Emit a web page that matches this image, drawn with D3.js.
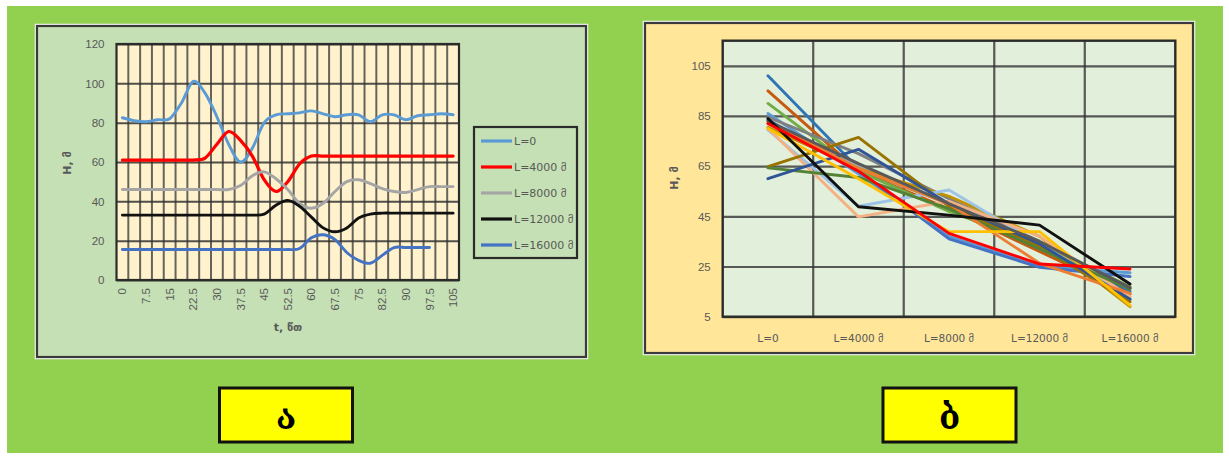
<!DOCTYPE html>
<html>
<head>
<meta charset="utf-8">
<script src="https://cdn.jsdelivr.net/npm/d3@7"></script>
<style>
  html, body { margin: 0; padding: 0; background: #ffffff; }
  svg { display: block; }
</style>
</head>
<body>
<svg id="chart" width="1229" height="459"></svg>
<script>
// ---------- Panel ა : water level H over time t at five stations ----------
const timeSteps = [0, 3.75, 7.5, 11.25, 15, 18.75, 22.5, 26.25, 30, 33.75, 37.5, 41.25, 45, 48.75,
  52.5, 56.25, 60, 63.75, 67.5, 71.25, 75, 78.75, 82.5, 86.25, 90, 93.75, 97.5, 101.25, 105];
const timeTickLabels = ["0", "7.5", "15", "22.5", "30", "37.5", "45", "52.5", "60", "67.5",
  "75", "82.5", "90", "97.5", "105"];
const levelTicks = [0, 20, 40, 60, 80, 100, 120];

const stationNames = ["L=0", "L=4000 მ", "L=8000 მ", "L=12000 მ", "L=16000 მ"];
const stationColors = ["#5B9BD5", "#FF0000", "#A5A5A5", "#111111", "#4472C4"];

const levelL0 = [82.5, 81, 80.5, 81.5, 82, 90, 101, 95, 83, 69, 60, 67, 80, 84, 84.5,
  85, 86, 84.5, 83, 84, 84, 80.5, 84, 84, 81.5, 83.5, 84, 84.5, 84];
const levelL4000 = [61, 61, 61, 61, 61, 61, 61, 62, 69, 75.5, 71, 63, 51, 45, 50,
  59, 63, 63, 63, 63, 63, 63, 63, 63, 63, 63, 63, 63, 63];
const levelL8000 = [46, 46, 46, 46, 46, 46, 46, 46, 46, 46, 48, 53, 55, 51.5, 46,
  39, 36.5, 39, 45, 50, 51, 49, 46.5, 45, 44.5, 46, 47.5, 47.5, 47.5];
const levelL12000 = [33, 33, 33, 33, 33, 33, 33, 33, 33, 33, 33, 33, 33.5, 38, 40.5,
  37.5, 32, 26.5, 24.5, 26.5, 31.5, 33.5, 34, 34, 34, 34, 34, 34, 34];
const levelL16000 = [15.5, 15.5, 15.5, 15.5, 15.5, 15.5, 15.5, 15.5, 15.5, 15.5, 15.5, 15.5, 15.5, 15.5, 15.5,
  16, 21.5, 23, 20.5, 14, 10, 8.5, 12.5, 16.5, 16.5, 16.5, 16.5, null, null];
const stationLevels = [levelL0, levelL4000, levelL8000, levelL12000, levelL16000];

// ---------- Panel ბ : level profiles along the channel ----------
const profileCategories = ["L=0", "L=4000 მ", "L=8000 მ", "L=12000 მ", "L=16000 მ"];
const profileTicks = [5, 25, 45, 65, 85, 105];

const profileSteelBlue = [101, 64, 50, 33, 15];
const profileBrown = [95, 63, 48, 31, 14];
const profileGreen = [90, 63, 47, 34, 17];
const profileLightBlue = [86, 62, 37, 25, 22.5];
const profileMidGray = [84.5, 70, 52, 35, 16.5];
const profileBlue = [83.5, 63, 36, 24.7, 21];
const profileGray = [82, 65, 50, 34, 12];
const profileGold = [80.5, 64, 53, 37, 9];
const profilePaleBlue = [79.5, 49, 55.5, 34, 13];
const profileBlack = [84, 48.8, 45.5, 41.5, 18];
const profileSalmon = [80, 44.8, 51, 37, 13];
const profileOlive = [64.8, 76.5, 49, 33, 11];
const profileDarkGreen = [64.3, 60.5, 48, 32, 16];
const profileNavy = [60, 71.7, 50, 34, 12];
const profileRed = [82, 63, 38.2, 26, 24];
const profileYellow = [80, 60, 38.9, 38.9, 9.5];
const profileOrange = [83, 64, 50, 26.3, 14.3];
const profileDarkGray = [83, 66, 50, 35, 16.5];

const profiles = [
  { color: "#2E75B6", values: profileSteelBlue },
  { color: "#C55A11", values: profileBrown },
  { color: "#70AD47", values: profileGreen },
  { color: "#5B9BD5", values: profileLightBlue },
  { color: "#7F7F7F", values: profileMidGray },
  { color: "#4472C4", values: profileBlue },
  { color: "#A5A5A5", values: profileGray },
  { color: "#BF9000", values: profileGold },
  { color: "#9DC3E6", values: profilePaleBlue },
  { color: "#F4B183", values: profileSalmon },
  { color: "#997300", values: profileOlive },
  { color: "#548235", values: profileDarkGreen },
  { color: "#2F5597", values: profileNavy },
  { color: "#ED7D31", values: profileOrange },
  { color: "#FFC000", values: profileYellow },
  { color: "#595959", values: profileDarkGray },
  { color: "#111111", values: profileBlack },
  { color: "#FF0000", values: profileRed }
];

// ---------- drawing ----------
const svg = d3.select("#chart");
const labelFont = "'Liberation Sans', 'DejaVu Sans', sans-serif";
const textGray = "#595959";

// green backdrop
svg.append("rect").attr("x", 7).attr("y", 6).attr("width", 1216).attr("height", 447)
  .attr("fill", "#92D050");

function panel(x, y, w, h, fill) {
  svg.append("rect").attr("x", x - 1.5).attr("y", y - 1.5).attr("width", w + 3).attr("height", h + 3)
    .attr("fill", "none").attr("stroke", "#f4f4f4").attr("stroke-width", 1.5);
  svg.append("rect").attr("x", x).attr("y", y).attr("width", w).attr("height", h)
    .attr("fill", fill).attr("stroke", "#3a3a3a").attr("stroke-width", 2.2);
}

// ===== left chart =====
panel(37, 26, 549, 331, "#C5E0B4");

const plotL = { left: 116.5, right: 459, top: 44, bottom: 280 };
const xL = d3.scaleBand().domain(timeSteps).range([plotL.left, plotL.right]).paddingInner(0).paddingOuter(0);
const yL = d3.scaleLinear().domain([0, 120]).range([plotL.bottom, plotL.top]);

const gL = svg.append("g");
gL.append("rect").attr("x", plotL.left).attr("y", plotL.top)
  .attr("width", plotL.right - plotL.left).attr("height", plotL.bottom - plotL.top)
  .attr("fill", "#FFF2CC");

// vertical grid at category boundaries
gL.append("g").selectAll("line").data(timeSteps.slice(1)).join("line")
  .attr("x1", d => xL(d)).attr("x2", d => xL(d))
  .attr("y1", plotL.top).attr("y2", plotL.bottom)
  .attr("stroke", "#333333").attr("stroke-opacity", 0.75).attr("stroke-width", 2);

// horizontal grid + y labels
const yAxisL = d3.axisLeft(yL).tickValues(levelTicks).tickSize(-(plotL.right - plotL.left)).tickPadding(12);
const yAxG = gL.append("g").attr("transform", `translate(${plotL.left},0)`).call(yAxisL);
yAxG.select(".domain").remove();
yAxG.selectAll(".tick line").attr("stroke", "#333333").attr("stroke-opacity", 0.85).attr("stroke-width", 2);
yAxG.selectAll(".tick text").attr("fill", textGray).attr("font-family", labelFont).attr("font-size", 11.5);

// x labels (every second category)
const labelByStep = new Map(timeSteps.filter((t, i) => i % 2 === 0).map((t, k) => [t, timeTickLabels[k]]));
const xAxisL = d3.axisBottom(xL).tickValues(timeSteps.filter((t, i) => i % 2 === 0))
  .tickFormat(t => labelByStep.get(t)).tickSize(0).tickPadding(0);
const xAxG = gL.append("g").attr("transform", `translate(0,${plotL.bottom})`).call(xAxisL);
xAxG.select(".domain").remove();
xAxG.selectAll(".tick text")
  .attr("fill", textGray).attr("font-family", labelFont).attr("font-size", 11.5)
  .attr("text-anchor", "end").attr("transform", "rotate(-90)")
  .attr("x", -8).attr("y", 0).attr("dy", "0.35em");

// series
const lineL = d3.line()
  .defined(d => d.v !== null)
  .x(d => xL(d.t) + xL.bandwidth() / 2)
  .y(d => yL(d.v))
  .curve(d3.curveCardinal.tension(0));

stationLevels.forEach((vals, k) => {
  gL.append("path")
    .datum(timeSteps.map((t, i) => ({ t, v: vals[i] })))
    .attr("d", lineL).attr("fill", "none")
    .attr("stroke", stationColors[k]).attr("stroke-width", k === 1 ? 3.2 : 2.9)
    .attr("stroke-linejoin", "round").attr("stroke-linecap", "round");
});

gL.append("rect").attr("x", plotL.left).attr("y", plotL.top)
  .attr("width", plotL.right - plotL.left).attr("height", plotL.bottom - plotL.top)
  .attr("fill", "none").attr("stroke", "#2b2b2b").attr("stroke-width", 2.2);

// axis titles
svg.append("text").attr("transform", "translate(67,163) rotate(-90)")
  .attr("text-anchor", "middle").attr("dy", "0.35em")
  .attr("font-family", "'DejaVu Sans', sans-serif").attr("font-size", 11).attr("font-weight", "bold")
  .attr("fill", textGray).text("H, მ");
svg.append("text").attr("x", 288).attr("y", 331).attr("text-anchor", "middle")
  .attr("font-family", "'DejaVu Sans', sans-serif").attr("font-size", 11).attr("font-weight", "bold")
  .attr("fill", textGray).text("t, წთ");

// legend
const legend = svg.append("g");
legend.append("rect").attr("x", 474).attr("y", 127).attr("width", 103).attr("height", 131)
  .attr("fill", "#C5E0B4").attr("stroke", "#2b2b2b").attr("stroke-width", 2.2);
stationNames.forEach((name, k) => {
  const yy = 141 + k * 26;
  legend.append("line").attr("x1", 481).attr("x2", 512).attr("y1", yy).attr("y2", yy)
    .attr("stroke", stationColors[k]).attr("stroke-width", 3.2);
  legend.append("text").attr("x", 514).attr("y", yy).attr("dy", "0.35em")
    .attr("font-family", "'DejaVu Sans', sans-serif").attr("font-size", 11)
    .attr("fill", textGray).text(name);
});

// ===== right chart =====
panel(645, 23, 548, 330, "#FFE699");

const plotR = { left: 722.7, right: 1175.3, top: 40.7, bottom: 316.7 };
const xR = d3.scaleBand().domain(profileCategories).range([plotR.left, plotR.right]).paddingInner(0).paddingOuter(0);
const yR = d3.scaleLinear().domain([5, 115]).range([plotR.bottom, plotR.top]);

const gR = svg.append("g");
gR.append("rect").attr("x", plotR.left).attr("y", plotR.top)
  .attr("width", plotR.right - plotR.left).attr("height", plotR.bottom - plotR.top)
  .attr("fill", "#E2EFDA");

gR.append("g").selectAll("line").data(profileCategories.slice(1)).join("line")
  .attr("x1", d => xR(d)).attr("x2", d => xR(d))
  .attr("y1", plotR.top).attr("y2", plotR.bottom)
  .attr("stroke", "#333333").attr("stroke-opacity", 0.8).attr("stroke-width", 2.2);

const yAxisR = d3.axisLeft(yR).tickValues(profileTicks).tickSize(-(plotR.right - plotR.left)).tickPadding(12);
const yAxRG = gR.append("g").attr("transform", `translate(${plotR.left},0)`).call(yAxisR);
yAxRG.select(".domain").remove();
yAxRG.selectAll(".tick line").attr("stroke", "#333333").attr("stroke-opacity", 0.8).attr("stroke-width", 2.2);
yAxRG.selectAll(".tick text").attr("fill", textGray).attr("font-family", labelFont).attr("font-size", 11.5);

const xAxisR = d3.axisBottom(xR).tickSize(0).tickPadding(18);
const xAxRG = gR.append("g").attr("transform", `translate(0,${plotR.bottom})`).call(xAxisR);
xAxRG.select(".domain").remove();
xAxRG.selectAll(".tick text").attr("fill", textGray)
  .attr("font-family", "'DejaVu Sans', sans-serif").attr("font-size", 10.5);

const lineR = d3.line()
  .x((v, i) => xR(profileCategories[i]) + xR.bandwidth() / 2)
  .y(v => yR(v));

profiles.forEach(p => {
  gR.append("path").datum(p.values).attr("d", lineR)
    .attr("fill", "none").attr("stroke", p.color).attr("stroke-width", 2.9)
    .attr("stroke-linejoin", "round").attr("stroke-linecap", "round");
});

gR.append("rect").attr("x", plotR.left).attr("y", plotR.top)
  .attr("width", plotR.right - plotR.left).attr("height", plotR.bottom - plotR.top)
  .attr("fill", "none").attr("stroke", "#2b2b2b").attr("stroke-width", 2.4);

svg.append("text").attr("transform", "translate(674,178) rotate(-90)")
  .attr("text-anchor", "middle").attr("dy", "0.35em")
  .attr("font-family", "'DejaVu Sans', sans-serif").attr("font-size", 11).attr("font-weight", "bold")
  .attr("fill", textGray).text("H, მ");

// ===== captions =====
function caption(cx, letter) {
  svg.append("rect").attr("x", cx - 66.5).attr("y", 388).attr("width", 133).attr("height", 54)
    .attr("fill", "#FFFF00").attr("stroke", "#111111").attr("stroke-width", 3);
  svg.append("text").attr("x", cx).attr("y", 429).attr("text-anchor", "middle")
    .attr("font-family", "'DejaVu Serif', 'DejaVu Sans', serif").attr("font-size", 34).attr("font-weight", "bold")
    .attr("fill", "#000000").text(letter);
}
caption(286, "ა");
caption(949.5, "ბ");
</script>
</body>
</html>
